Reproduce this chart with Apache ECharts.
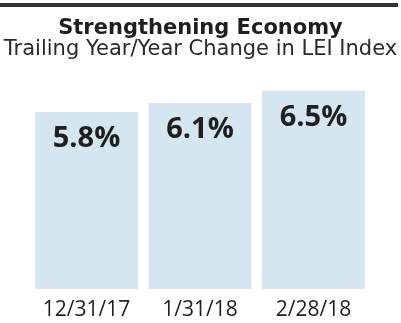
<!DOCTYPE html>
<html>
<head>
<meta charset="utf-8">
<script src="https://cdn.jsdelivr.net/npm/echarts@6/dist/echarts.min.js"></script>
<style>
  html, body { margin: 0; padding: 0; background: #ffffff; }
  #chart { width: 401px; height: 323px; }
</style>
</head>
<body>
<div id="chart"></div>
<script>
// Trailing year-over-year change in the Leading Economic Index
const categories = ['12/31/17', '1/31/18', '2/28/18'];
const leiChange = [5.8, 6.1, 6.5];

const HEAD_FONT = '"DejaVu Sans", sans-serif';
const BODY_FONT = '"Open Sans", sans-serif';

const chart = echarts.init(document.getElementById('chart'), null, { renderer: 'canvas' });

chart.setOption({
  animation: false,
  backgroundColor: '#ffffff',
  graphic: [{
    type: 'rect',
    left: 0,
    top: 3,
    shape: { width: 398, height: 4 },
    style: { fill: '#333333' }
  }],
  title: {
    text: 'Strengthening Economy',
    subtext: 'Trailing Year/Year Change in LEI Index',
    left: 'center',
    top: 13,
    itemGap: 0,
    textStyle: { fontFamily: HEAD_FONT, fontSize: 21, fontWeight: 'bold', color: '#1f1f1f' },
    subtextStyle: { fontFamily: HEAD_FONT, fontSize: 21, color: '#2a2a2a' }
  },
  grid: { left: 29.75, width: 340.5, top: 75.5, height: 213.5 },
  xAxis: {
    type: 'category',
    data: categories,
    axisLine: { show: false },
    axisTick: { show: false },
    axisLabel: { interval: 0, fontFamily: BODY_FONT, fontSize: 21, color: '#1f1f1f', margin: 11 }
  },
  yAxis: {
    type: 'value',
    min: 0,
    max: 7,
    show: false,
    splitLine: { show: false }
  },
  series: [{
    type: 'bar',
    data: leiChange,
    barWidth: 103,
    itemStyle: { color: '#d6e6f1' },
    label: {
      show: true,
      position: 'insideTop',
      distance: 12,
      formatter: p => p.value.toFixed(1) + '%',
      fontFamily: BODY_FONT,
      fontSize: 29,
      fontWeight: 'bold',
      color: '#1f1f1f'
    }
  }]
});
</script>
</body>
</html>
